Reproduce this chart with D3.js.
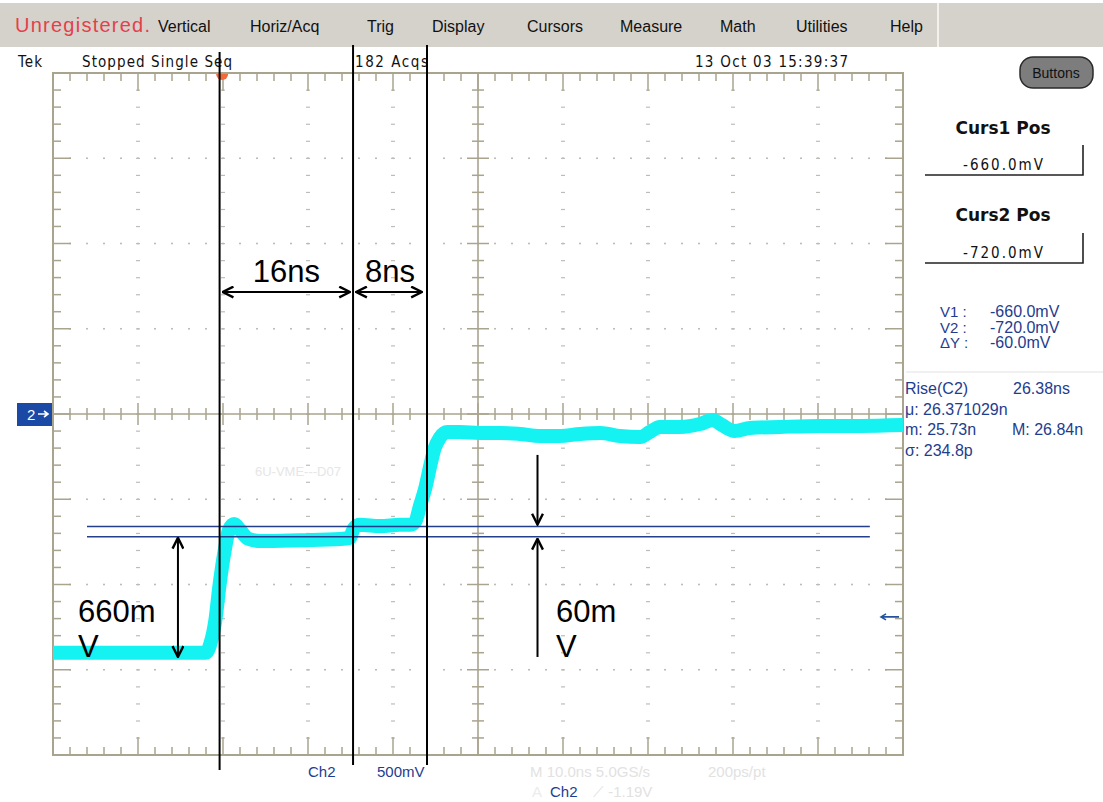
<!DOCTYPE html>
<html>
<head>
<meta charset="utf-8">
<script src="https://cdn.jsdelivr.net/npm/d3@7"></script>
<style>
  body { margin: 0; background: #fff; }
  svg { display: block; }
</style>
</head>
<body>
<div id="scope"></div>
<script>
// Ch2 trace: time in ns from left edge, level in volts
const traceTime = [0, 8, 15, 18, 18.5, 19.1, 19.6, 20.2, 20.7, 21.3, 22.0, 22.9, 24.4, 29.1, 33.8, 34.9,
    35.4, 36.1, 38.5, 40.8, 42.0, 42.6, 43.2, 43.8, 44.4, 44.9, 45.5, 46.4, 47.9, 50.2, 52.6, 54.9,
    57.3, 59.6, 62.0, 64.4, 66.7, 69.1, 70.2, 71.4, 73.8, 76.1, 77.6, 78.7, 80.2, 82.0, 85.5, 90.2, 94.9, 100];
const traceVolts = [-1.40, -1.40, -1.40, -1.40, -1.35, -1.21, -1.00, -0.80, -0.68, -0.645, -0.68, -0.73, -0.745, -0.74, -0.733, -0.727,
    -0.67, -0.65, -0.657, -0.65, -0.65, -0.633, -0.534, -0.434, -0.30, -0.20, -0.14, -0.106, -0.106, -0.111, -0.111, -0.117,
    -0.129, -0.129, -0.117, -0.111, -0.129, -0.135, -0.106, -0.076, -0.076, -0.059, -0.035, -0.065, -0.10, -0.082, -0.076, -0.07, -0.07, -0.065];

const cursorVolts = [-0.66, -0.72];
const markerTimes = [19.6, 35.3, 44.0];   // hand drawn black lines
const spanLabels = ['16ns', '8ns'];
const triggerTime = 19.9;
const triggerLevel = -1.19;

const menuItems = ['Vertical', 'Horiz/Acq', 'Trig', 'Display', 'Cursors', 'Measure', 'Math', 'Utilities', 'Help'];
const cursorReadout = [['V1 :', '-660.0mV'], ['V2 :', '-720.0mV'], ['\u0394Y :', '-60.0mV']];
const riseReadout = [['Rise(C2)', '26.38ns'], ['\u03bc: 26.371029n', ''], ['m: 25.73n', 'M: 26.84n'], ['\u03c3: 234.8p', '']];

(function drawScope() {
    const W = 1103, H = 802;
    const svg = d3.select('#scope').append('svg')
        .attr('width', W)
        .attr('height', H);

    const x = d3.scaleLinear().domain([0, 100]).range([53, 903]);
    const y = d3.scaleLinear().domain([-2, 2]).range([755, 73]);

    const defs = svg.append('defs');
    defs.append('marker')
        .attr('id', 'arrow')
        .attr('viewBox', '0 0 12 12')
        .attr('refX', 11)
        .attr('refY', 6)
        .attr('markerWidth', 13)
        .attr('markerHeight', 13)
        .attr('markerUnits', 'userSpaceOnUse')
        .attr('orient', 'auto-start-reverse')
      .append('path')
        .attr('d', 'M1,1 L11,6 L1,11')
        .attr('fill', 'none')
        .attr('stroke', '#000')
        .attr('stroke-width', 2.2);

    drawMenu(svg);
    drawGraticule(svg, x, y);
    drawTrace(svg, x, y);
    drawReadouts(svg, x, y);
    drawNotes(svg, x, y);
})();

function drawMenu(svg) {
    svg.append('rect')
        .attr('x', 0).attr('y', 3)
        .attr('width', 1103).attr('height', 44)
        .style('fill', '#d5d2cb');
    svg.append('line')
        .attr('x1', 938).attr('x2', 938).attr('y1', 3).attr('y2', 47)
        .style('stroke', '#f2f1ee').style('stroke-width', 2);

    svg.append('text')
        .attr('x', 15).attr('y', 32)
        .attr('textLength', 135)
        .style('font', '20px "Liberation Sans", Arial, sans-serif')
        .style('fill', '#e5404a')
        .text('Unregistered.');

    const menuX = [158, 250, 367, 432, 527, 620, 720, 796, 890];
    menuItems.forEach((m, i) => {
        svg.append('text')
            .attr('x', menuX[i]).attr('y', 32)
            .style('font', '16px "Liberation Sans", Arial, sans-serif')
            .style('fill', '#111')
            .text(m);
    });

    // status line
    const status = [['Tek', 18, 24], ['Stopped  Single Seq', 82, 150], ['182 Acqs', 355, 73], ['13 Oct 03 15:39:37', 695, 153]];
    status.forEach(([t, sx, len]) => {
        svg.append('text')
            .attr('x', sx).attr('y', 67)
            .attr('textLength', len)
            .style('font', '15px "DejaVu Sans Condensed", "DejaVu Sans", sans-serif')
            .style('fill', '#111')
            .text(t);
    });

    // Buttons
    svg.append('rect')
        .attr('x', 1020).attr('y', 57)
        .attr('width', 73).attr('height', 31)
        .attr('rx', 13)
        .style('fill', '#7d7d7d')
        .style('stroke', '#2a2a2a')
        .style('stroke-width', 1.5);
    svg.append('text')
        .attr('x', 1056).attr('y', 78)
        .attr('text-anchor', 'middle')
        .style('font', '14px "Liberation Sans", Arial, sans-serif')
        .style('fill', '#111')
        .text('Buttons');
}

function drawGraticule(svg, x, y) {
    const g = svg.append('g');
    const frame = '#a9a48e';
    const divT = d3.range(0, 100.001, 10);
    const divV = d3.range(-2, 2.001, 0.5);
    const minT = d3.range(0, 100.001, 2);
    const minV = d3.range(-2, 2.001, 0.1);
    const isDiv = (v, step) => Math.abs(v / step - Math.round(v / step)) < 1e-6;

    // dotted division lines
    divT.slice(1, -1).filter(t => t !== 50).forEach(t => {
        minV.slice(1, -1).forEach(v => {
            g.append('rect')
                .attr('x', x(t) - 2).attr('y', y(v) - 0.5)
                .attr('width', 4).attr('height', 1.2)
                .style('fill', '#bdbdb8');
        });
    });
    divV.slice(1, -1).filter(v => v !== 0).forEach(v => {
        minT.slice(1, -1).forEach(t => {
            g.append('rect')
                .attr('x', x(t) - 1).attr('y', y(v) - 0.8)
                .attr('width', 2).attr('height', 1.6)
                .style('fill', '#bdbdb8');
        });
    });

    g.append('rect')
        .attr('x', x(0)).attr('y', y(2))
        .attr('width', x(100) - x(0)).attr('height', y(-2) - y(2))
        .style('fill', 'none')
        .style('stroke', frame)
        .style('stroke-width', 2);

    // centre cross
    g.append('line')
        .attr('x1', x(0)).attr('x2', x(100)).attr('y1', y(0)).attr('y2', y(0))
        .style('stroke', frame).style('stroke-width', 1.6);
    g.append('line')
        .attr('x1', x(50)).attr('x2', x(50)).attr('y1', y(2)).attr('y2', y(-2))
        .style('stroke', frame).style('stroke-width', 1.6);

    const tick = (x1, y1, x2, y2) => g.append('line')
        .attr('x1', x1).attr('y1', y1).attr('x2', x2).attr('y2', y2)
        .style('stroke', frame).style('stroke-width', 1.5);

    minT.slice(1, -1).forEach(t => {
        const big = isDiv(t, 10);
        const len = big ? 18 : 8;
        tick(x(t), y(2), x(t), y(2) + len);
        tick(x(t), y(-2), x(t), y(-2) - len);
        const c = big ? 11 : 6;
        tick(x(t), y(0) - c, x(t), y(0) + c);
    });
    minV.slice(1, -1).forEach(v => {
        const big = isDiv(v, 0.5);
        const len = big ? 18 : 8;
        tick(x(0), y(v), x(0) + len, y(v));
        tick(x(100), y(v), x(100) - len, y(v));
        const c = big ? 11 : 6;
        tick(x(50) - c, y(v), x(50) + c, y(v));
    });

    // trigger position marker
    g.append('path')
        .attr('d', d3.arc().innerRadius(0).outerRadius(6).startAngle(Math.PI / 2).endAngle(Math.PI * 1.5))
        .attr('transform', `translate(${x(triggerTime)},${y(2) + 1})`)
        .style('fill', '#f26a3a');

    // ch2 ground marker
    svg.append('rect')
        .attr('x', 17).attr('y', y(0) - 11)
        .attr('width', 35).attr('height', 23)
        .style('fill', '#1a4aa6');
    svg.append('text')
        .attr('x', 27).attr('y', y(0) + 6)
        .style('font', '15px "Liberation Sans", Arial, sans-serif')
        .style('fill', '#fff')
        .text('2');
    svg.append('path')
        .attr('d', `M38,${y(0)} L48,${y(0)} M44,${y(0) - 3} L48,${y(0)} L44,${y(0) + 3}`)
        .style('fill', 'none').style('stroke', '#fff').style('stroke-width', 1.6);

    // trigger level arrow
    svg.append('path')
        .attr('d', `M881,${y(triggerLevel)} L899,${y(triggerLevel)} M886,${y(triggerLevel) - 3} L881,${y(triggerLevel)} L886,${y(triggerLevel) + 3}`)
        .style('fill', 'none').style('stroke', '#2452a0').style('stroke-width', 1.6);

    // faint waveform label
    svg.append('text')
        .attr('x', 255).attr('y', 476)
        .style('font', '13px "Liberation Sans", Arial, sans-serif')
        .style('fill', '#e6e6e6')
        .text('6U-VME---D07');
}

function drawTrace(svg, x, y) {
    const pts = traceTime.map((t, i) => [t, traceVolts[i]]);
    const line = d3.line()
        .x(d => x(d[0]))
        .y(d => y(d[1]))
        .curve(d3.curveMonotoneX);

    svg.append('path')
        .datum(pts)
        .attr('d', line)
        .style('fill', 'none')
        .style('stroke', '#14f2f2')
        .style('stroke-width', 14)
        .style('stroke-linejoin', 'round');

    cursorVolts.forEach(v => {
        svg.append('line')
            .attr('x1', x(4)).attr('x2', x(96.1))
            .attr('y1', y(v)).attr('y2', y(v))
            .style('stroke', '#243f8c')
            .style('stroke-width', 1.6);
    });
}

function drawReadouts(svg, x, y) {
    const blue = '#1e3d8f';
    const boxes = [['Curs1 Pos', '-660.0mV', 134, 175], ['Curs2 Pos', '-720.0mV', 221, 263]];
    boxes.forEach(([title, val, ty, by]) => {
        svg.append('text')
            .attr('x', 1003).attr('y', ty)
            .attr('text-anchor', 'middle')
            .style('font', 'bold 17px "DejaVu Sans", Verdana, sans-serif')
            .style('fill', '#111')
            .text(title);
        svg.append('text')
            .attr('x', 1003).attr('y', by - 5)
            .attr('text-anchor', 'middle')
            .attr('textLength', 80)
            .style('font', '15px "DejaVu Sans Condensed", "DejaVu Sans", sans-serif')
            .style('fill', '#111')
            .text(val);
        svg.append('path')
            .attr('d', `M925,${by} L1083,${by} L1083,${by - 30}`)
            .style('fill', 'none').style('stroke', '#222').style('stroke-width', 1.6);
    });

    cursorReadout.forEach(([k, v], i) => {
        const ry = 317 + i * 15.5;
        svg.append('text')
            .attr('x', 940).attr('y', ry)
            .style('font', '15px "Liberation Sans", Arial, sans-serif')
            .style('fill', blue)
            .text(k);
        svg.append('text')
            .attr('x', 990).attr('y', ry)
            .style('font', '16px "Liberation Sans", Arial, sans-serif')
            .style('fill', blue)
            .text(v);
    });

    svg.append('line')
        .attr('x1', 906).attr('x2', 1103).attr('y1', 372).attr('y2', 372)
        .style('stroke', '#e2e2e2').style('stroke-width', 1);

    riseReadout.forEach(([a, b], i) => {
        const ry = 394 + i * 20.5;
        svg.append('text')
            .attr('x', 905).attr('y', ry)
            .style('font', '16px "Liberation Sans", Arial, sans-serif')
            .style('fill', blue)
            .text(a);
        svg.append('text')
            .attr('x', i === 0 ? 1013 : 1012).attr('y', ry)
            .style('font', '16px "Liberation Sans", Arial, sans-serif')
            .style('fill', blue)
            .text(b);
    });

    // bottom settings line
    const bottom = [['Ch2', 308, 777, blue], ['500mV', 377, 777, blue], ['M 10.0ns 5.0GS/s', 530, 777, '#e2e2e2'],
        ['200ps/pt', 708, 777, '#e2e2e2'], ['A', 532, 797, '#ececec'], ['Ch2', 550, 797, blue], ['\u27cb -1.19V', 593, 797, '#e2e2e2']];
    bottom.forEach(([t, bx, by, c]) => {
        svg.append('text')
            .attr('x', bx).attr('y', by)
            .style('font', '15px "Liberation Sans", Arial, sans-serif')
            .style('fill', c)
            .text(t);
    });
}

function drawNotes(svg, x, y) {
    const font = '31px "Liberation Sans", Arial, sans-serif';

    markerTimes.forEach((t, i) => {
        svg.append('line')
            .attr('x1', x(t)).attr('x2', x(t))
            .attr('y1', i === 0 ? 52 : 45).attr('y2', i === 0 ? 770 : 765)
            .style('stroke', '#000')
            .style('stroke-width', 2);
    });

    // time spans
    spanLabels.forEach((lab, i) => {
        const a = x(markerTimes[i]) + 3, b = x(markerTimes[i + 1]) - 3;
        svg.append('line')
            .attr('x1', a).attr('x2', b - (i === 1 ? 2 : 0))
            .attr('y1', 292).attr('y2', 292)
            .attr('marker-start', 'url(#arrow)')
            .attr('marker-end', 'url(#arrow)')
            .style('stroke', '#000')
            .style('stroke-width', 2);
        svg.append('text')
            .attr('x', (a + b) / 2).attr('y', 282)
            .attr('text-anchor', 'middle')
            .style('font', font)
            .text(lab);
    });

    // level spans
    svg.append('line')
        .attr('x1', x(14.7)).attr('x2', x(14.7))
        .attr('y1', y(cursorVolts[1]) + 1).attr('y2', y(-1.425))
        .attr('marker-start', 'url(#arrow)')
        .attr('marker-end', 'url(#arrow)')
        .style('stroke', '#000').style('stroke-width', 2);
    svg.append('line')
        .attr('x1', x(57)).attr('x2', x(57))
        .attr('y1', y(-0.24)).attr('y2', y(cursorVolts[0]) - 2)
        .attr('marker-end', 'url(#arrow)')
        .style('stroke', '#000').style('stroke-width', 2);
    svg.append('line')
        .attr('x1', x(57)).attr('x2', x(57))
        .attr('y1', y(-1.425)).attr('y2', y(cursorVolts[1]) + 2)
        .attr('marker-end', 'url(#arrow)')
        .style('stroke', '#000').style('stroke-width', 2);

    [['660m', 78], ['60m', 556]].forEach(([lab, lx]) => {
        svg.append('text').attr('x', lx).attr('y', 622).style('font', font).text(lab);
        svg.append('text').attr('x', lx).attr('y', 657).style('font', font).text('V');
    });
}
</script>
</body>
</html>
